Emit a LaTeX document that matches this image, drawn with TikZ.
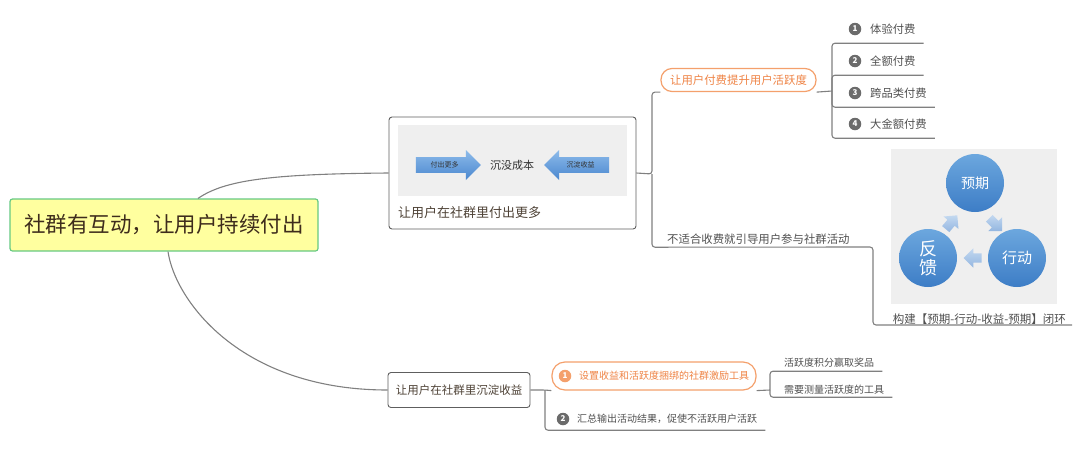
\documentclass[tikz,border=0pt]{standalone}
\usepackage{fontspec}
\setmainfont{Noto Sans CJK SC}
\usetikzlibrary{shapes,arrows.meta,positioning,calc}
\definecolor{mapLine}{HTML}{808080}
\definecolor{mapBorder}{HTML}{5E5E5E}
\definecolor{mapText}{HTML}{505050}
\definecolor{topicText}{HTML}{4E4236}
\definecolor{rootFill}{HTML}{FFFF9F}
\definecolor{rootEdge}{HTML}{66C983}
\definecolor{rootText}{HTML}{3E2C1C}
\definecolor{hiOrange}{HTML}{F4A06C}
\definecolor{hiText}{HTML}{EF8446}
\definecolor{numGray}{HTML}{6B6B6B}
\definecolor{picGray}{HTML}{EFEFEF}
\definecolor{bubbleTop}{HTML}{6CA7DE}
\definecolor{bubbleBot}{HTML}{3D7DC6}
\definecolor{hintTop}{HTML}{C3D8F0}
\definecolor{hintBot}{HTML}{93B6E0}
\definecolor{arrowTop}{HTML}{8DBBEA}
\definecolor{arrowBot}{HTML}{4A87CF}
\newcommand{\fs}[1]{\fontsize{#1}{#1}\selectfont}

\begin{document}
\begin{tikzpicture}[x=1pt, y=-1pt,
          rootbox/.style={rectangle, rounded corners=2.5pt, draw=rootEdge, fill=rootFill, line width=1.2pt, minimum width=308pt, minimum height=52pt, text=rootText, font=\fs{21.5}},
          topic/.style={rectangle, rounded corners=3pt, draw=mapBorder, fill=white, line width=0.9pt, text=topicText},
          pill/.style={rectangle, rounded corners=11pt, draw=hiOrange, fill=white, line width=1.2pt, text=hiText},
          leaf/.style={inner xsep=8pt, inner ysep=0pt, text=mapText},
          badge/.style={circle, fill=#1, text=white, inner sep=0pt, minimum size=12.5pt, font=\fs{8}\bfseries},
          badge/.default=numGray,
          bubble/.style={circle, top color=bubbleTop, bottom color=bubbleBot, draw=none, text=white, minimum size=58pt, inner sep=0pt},
          hint/.style={single arrow, top color=hintTop, bottom color=hintBot, draw=none, minimum height=18pt, minimum width=18pt, single arrow head extend=5pt, inner sep=4.5pt},
          bigarrow/.style={single arrow, top color=arrowTop, bottom color=arrowBot, draw=none, minimum width=30pt, minimum height=65pt, single arrow head extend=7pt, inner ysep=4.5pt, text=black!80, font=\fs{7}},
          link/.style={draw=mapLine, line width=1.1pt, rounded corners=3pt}
        ]
          \useasboundingbox (0,0) rectangle (1080,464);

          \node[rootbox] (root) at (164,225) {社群有互动，让用户持续付出};

          \node[topic, minimum width=247pt, minimum height=112pt] (paybox) at (512.5,173) {};
          \node[rectangle, fill=picGray, minimum width=229pt, minimum height=71pt] (paypic) at (512.5,160.5) {};
          \node[bigarrow] (payarr) at (444.5,165) {付出更多};
          \node[bigarrow, shape border rotate=180] (keeparr) at (580.5,165) {沉淀收益};
          \node[font=\fs{11}, text=black!80] (sunk) at (512,165) {沉没成本};
          \node[anchor=west, inner sep=0pt, font=\fs{13}, text=topicText] (paytxt) at (398,213) {让用户在社群里付出更多};

          \node[topic, minimum width=142pt, minimum height=35pt, font=\fs{11.5}] (savebox) at (459,390) {让用户在社群里沉淀收益};

          \draw[link, rounded corners=0pt] ([xshift=34pt]root.north) .. controls (225,180) and (270,174) .. (paybox.west);
          \draw[link, rounded corners=0pt] ([xshift=4pt]root.south) .. controls (175,300) and (240,390) .. (savebox.west);

          \coordinate (payjoint) at (652,174);
          \coordinate (feejoint) at (832,91);
          \coordinate (actbend) at (873,247);
          \coordinate (savejoint) at (545,390);
          \coordinate (tooljoint) at (770,390);

          \node[pill, minimum width=155pt, minimum height=23pt, font=\fs{11.4}] (fee) at (738.5,80) {让用户付费提升用户活跃度};
          \node[leaf, anchor=west, minimum height=28pt, font=\fs{11.3}] (trial) at (862,29) {体验付费};
          \node[leaf, anchor=west, minimum height=28pt, font=\fs{11.3}] (full) at (862,61) {全额付费};
          \node[leaf, anchor=west, minimum height=28pt, font=\fs{11.3}] (cross) at (862,93) {跨品类付费};
          \node[leaf, anchor=west, minimum height=28pt, font=\fs{11.3}] (large) at (862,124) {大金额付费};
          \node[badge] (n1) at (855,29) {1};
          \node[badge] (n2) at (855,61) {2};
          \node[badge] (n3) at (855,93) {3};
          \node[badge] (n4) at (855,124) {4};

          \node[leaf, anchor=west, inner xsep=4pt, minimum height=16pt, font=\fs{11.4}] (act) at (663,239) {不适合收费就引导用户参与社群活动};

          \node[rectangle, fill=picGray, minimum width=166pt, minimum height=155pt] (looppic) at (974,226.5) {};
          \node[bubble, font=\fs{14}] (expect) at (975,183) {预期};
          \node[bubble, font=\fs{15}] (action) at (1017,258) {行动};
          \node[bubble, font=\fontsize{18}{19}\selectfont, align=center] (feedback) at (928,258) {反\\馈};
          \node[hint, rotate=50] (hintup) at (950,224) {};
          \node[hint, rotate=-45] (hintdown) at (994,223) {};
          \node[hint, rotate=180] (hintleft) at (975,258) {};
          \node[leaf, anchor=south east, inner xsep=6pt, minimum height=12pt, font=\fs{11.5}] (loopcap) at (1072,325) {构建【预期-行动-收益-预期】闭环};

          \draw[link] (paybox.east) -- (payjoint) |- (fee.south west);
          \draw[link] (fee.south east) -- (feejoint);
          \draw[link] (feejoint) |- (trial.south east);
          \draw[link] (feejoint) |- (full.south east);
          \draw[link] (feejoint) |- (cross.south east);
          \draw[link] (feejoint) |- (large.south east);
          \draw[link] (payjoint) |- (act.south west) -- (actbend) |- (loopcap.south east);

          \node[pill, minimum width=204pt, minimum height=28pt, rounded corners=13pt, font=\fs{10}] (tool) at (654,376) {\hspace{20pt}设置收益和活跃度捆绑的社群激励工具};
          \node[badge=hiOrange] (t1) at (565,376) {1};
          \node[leaf, anchor=west, minimum height=22pt, font=\fs{10}] (sum) at (569,419) {汇总输出活动结果，促使不活跃用户活跃};
          \node[badge] (t2) at (563,419) {2};
          \node[leaf, anchor=west, minimum height=16pt, font=\fs{10}] (prize) at (776,363) {活跃度积分赢取奖品};
          \node[leaf, anchor=west, minimum height=14pt, font=\fs{10}] (metric) at (776,390) {需要测量活跃度的工具};

          \draw[link] (savebox.east) -- (savejoint) -- (tool.south west);
          \draw[link] (savejoint) |- (sum.south east);
          \draw[link] (tool.south east) -- (tooljoint);
          \draw[link] (tooljoint) |- (prize.south east);
          \draw[link] (tooljoint) |- (metric.south east);
        \end{tikzpicture}
\end{document}
